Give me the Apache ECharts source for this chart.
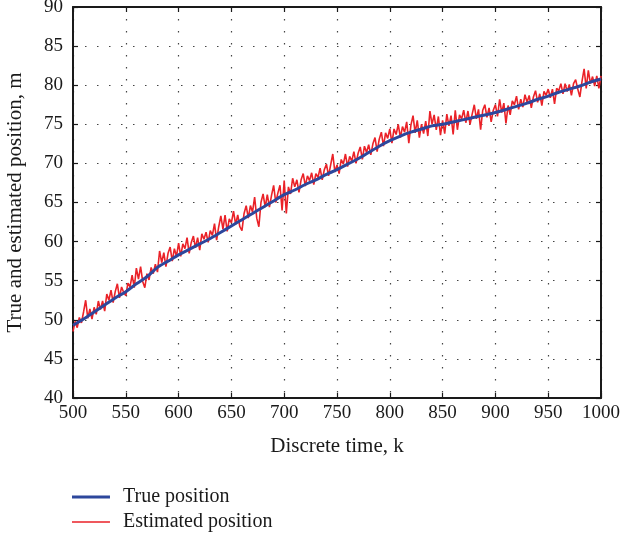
<!DOCTYPE html>
<html>
<head>
<meta charset="utf-8">
<script src="https://cdn.jsdelivr.net/npm/echarts@6/dist/echarts.min.js"></script>
<style>
  html, body { margin: 0; padding: 0; background: #fff; }
  #chart { width: 624px; height: 538px; }
</style>
</head>
<body>
<div id="chart"></div>
<script>
// Axis ranges and tick steps
const xRange = [500, 1000];
const xStep = 50;
const yRange = [40, 90];
const yStep = 5;

// True trajectory, sampled every 10 steps from k = 500
const trueStart = 500;
const trueEvery = 10;
const truePos = [
  49.3, 50.1, 51.0, 51.9, 52.8, 53.6, 54.6, 55.5, 56.7, 57.5,
  58.3, 59.0, 59.7, 60.4, 61.2, 62.0, 62.8, 63.6, 64.4, 65.2,
  66.0, 66.6, 67.3, 67.9, 68.6, 69.2, 69.9, 70.6, 71.4, 72.2,
  72.9, 73.5, 74.0, 74.4, 74.8, 75.0, 75.3, 75.6, 75.9, 76.2,
  76.5, 76.9, 77.3, 77.7, 78.2, 78.6, 79.1, 79.5, 79.9, 80.4,
  80.8
];

// Filter estimate, every 2 steps from k = 500
const estStart = 500;
const estEvery = 2;
const estPos = [
  48.5, 49.8, 49.0, 50.3, 49.6, 51.0, 52.5, 50.2, 51.4, 50.1,
  51.6, 50.7, 52.4, 51.3, 52.4, 51.1, 53.3, 52.5, 53.8, 52.2,
  53.6, 54.6, 52.8, 54.2, 53.5,
  53.1, 54.7, 54.2, 55.7, 54.1, 56.6, 55.2, 56.8, 54.9, 54.1,
  55.9, 55.1, 56.7, 55.9, 57.1, 56.1, 58.8, 57.3, 58.6, 56.8,
  58.5, 59.3, 57.5, 59.1, 58.1,
  59.8, 58.1, 59.7, 59.1, 60.5, 58.5, 59.9, 60.7, 59.2, 60.5,
  58.9, 61.0, 60.3, 61.2, 59.9, 61.4, 60.8, 62.3, 60.2, 61.9,
  63.3, 61.6, 63.4, 61.3, 62.9,
  62.4, 63.9, 62.2, 63.4, 61.9, 61.4, 63.6, 64.6, 63.0, 64.6,
  63.8, 65.7, 63.0, 61.9, 65.0, 66.1, 64.4, 66.0, 64.4, 65.9,
  67.2, 65.0, 66.2, 67.2, 64.0,
  67.8, 63.6, 67.0, 66.1, 68.1, 67.0, 67.9, 66.3, 67.9, 68.7,
  67.1, 68.4, 67.8, 68.8, 67.3, 68.7, 68.2, 69.4, 67.9, 69.2,
  69.9, 68.4, 69.8, 71.2, 68.9,
  69.8, 68.7, 70.5, 69.9, 71.2, 69.6, 70.9, 70.3, 71.5, 70.0,
  71.3, 72.1, 70.5, 72.2, 71.4, 72.4, 71.1, 72.5, 73.3, 71.5,
  73.1, 74.0, 72.2, 73.9, 73.2,
  74.4, 72.6, 74.4, 73.7, 75.0, 73.3, 74.7, 74.0, 75.3, 72.6,
  74.9, 76.1, 73.9, 75.5, 73.3, 75.0, 73.8, 75.4, 73.5, 76.7,
  75.0, 76.2, 74.3, 76.0, 73.6,
  75.5, 73.8, 76.3, 74.8, 76.1, 73.7, 76.8, 74.3, 76.2, 75.7,
  76.8, 75.2, 76.7, 75.0, 76.3, 77.5, 75.7, 76.9, 74.3, 76.8,
  77.5, 75.9, 77.1, 75.3, 76.8,
  77.5, 76.0, 78.2, 76.5, 77.7, 75.1, 77.4, 76.2, 78.0, 77.5,
  78.6, 76.9, 78.2, 77.2, 78.8, 77.8, 78.7, 77.1, 78.5, 79.3,
  77.8, 78.9, 77.4, 79.2, 78.7,
  79.5, 78.4, 79.5, 77.6, 79.6, 79.3, 80.2, 78.9, 80.2, 79.2,
  80.1, 78.7, 80.2, 80.7, 79.5, 78.5, 80.5, 82.1, 79.6, 81.9,
  80.2, 81.1, 79.9, 81.2, 79.6, 81.2
];

const seriesNames = ['True position', 'Estimated position'];
const xTitle = 'Discrete time, k';
const yTitle = 'True and estimated position, m';

const blue = '#2d479c';
const red = '#ea2228';

const toPairs = (start, every, vals) => vals.map((v, i) => [start + i * every, v]);

const serif = '"Liberation Serif", "DejaVu Serif", serif';
const ink = '#1a1a1a';

const dotted = { color: '#444', width: 1.2, type: [1.5, 10.5] };

const frameX = (pos, main) => ({
  type: 'value', position: pos, min: xRange[0], max: xRange[1], interval: xStep,
  axisLine: { show: true, onZero: false, lineStyle: { color: ink, width: 2 } },
  axisTick: { show: true, inside: true, length: 5, lineStyle: { color: ink, width: 1.2 } },
  axisLabel: main ? { show: true, color: ink, fontFamily: serif, fontSize: 19, margin: 6,
                      formatter: v => String(v) } : { show: false },
  splitLine: main ? { show: true, lineStyle: dotted } : { show: false },
  name: main ? xTitle : '', nameLocation: 'middle', nameGap: 38,
  nameTextStyle: { color: ink, fontFamily: serif, fontSize: 21 }
});

const frameY = (pos, main) => ({
  type: 'value', position: pos, min: yRange[0], max: yRange[1], interval: yStep,
  axisLine: { show: true, onZero: false, lineStyle: { color: ink, width: 2 } },
  axisTick: { show: true, inside: true, length: 5, lineStyle: { color: ink, width: 1.2 } },
  axisLabel: main ? { show: true, color: ink, fontFamily: serif, fontSize: 19, margin: 10 } : { show: false },
  splitLine: main ? { show: true, lineStyle: dotted } : { show: false },
  name: main ? yTitle : '', nameLocation: 'middle', nameGap: 47,
  nameTextStyle: { color: ink, fontFamily: serif, fontSize: 21 }
});

// Legend keys: a horizontal bar centred in a 38x15 box (thick for the truth, thin for the estimate)
const keyThick = 'path://M0,0h0.01v0.01h-0.01z M0,6h38v3h-38z M0,15h0.01v0.01h-0.01z';
const keyThin = 'path://M0,0h0.01v0.01h-0.01z M0,6.8h38v1.4h-38z M0,15h0.01v0.01h-0.01z';

const chart = echarts.init(document.getElementById('chart'), null, { renderer: 'canvas' });
chart.setOption({
  animation: false,
  backgroundColor: '#fff',
  grid: { left: 73, right: 23, top: 7, bottom: 140, containLabel: false, outerBoundsMode: 'none' },
  xAxis: [frameX('bottom', true), frameX('top', false)],
  yAxis: [frameY('left', true), frameY('right', false)],
  legend: {
    orient: 'vertical', left: 72, top: 487, height: 51, padding: 0,
    itemWidth: 38, itemHeight: 15, itemGap: 5,
    data: [
      { name: seriesNames[0], icon: keyThick, itemStyle: { color: blue } },
      { name: seriesNames[1], icon: keyThin, itemStyle: { color: red } }
    ],
    textStyle: { color: ink, fontFamily: serif, fontSize: 20, padding: [0, 0, 0, 8] }
  },
  series: [
    {
      name: seriesNames[1], type: 'line', xAxisIndex: 0, yAxisIndex: 0,
      data: toPairs(estStart, estEvery, estPos),
      symbol: 'none', z: 2,
      lineStyle: { color: red, width: 1.6 },
      itemStyle: { color: red }
    },
    {
      name: seriesNames[0], type: 'line', xAxisIndex: 0, yAxisIndex: 0,
      data: toPairs(trueStart, trueEvery, truePos),
      symbol: 'none', smooth: 0.3, z: 3,
      lineStyle: { color: blue, width: 3 },
      itemStyle: { color: blue }
    }
  ]
});
</script>
</body>
</html>
